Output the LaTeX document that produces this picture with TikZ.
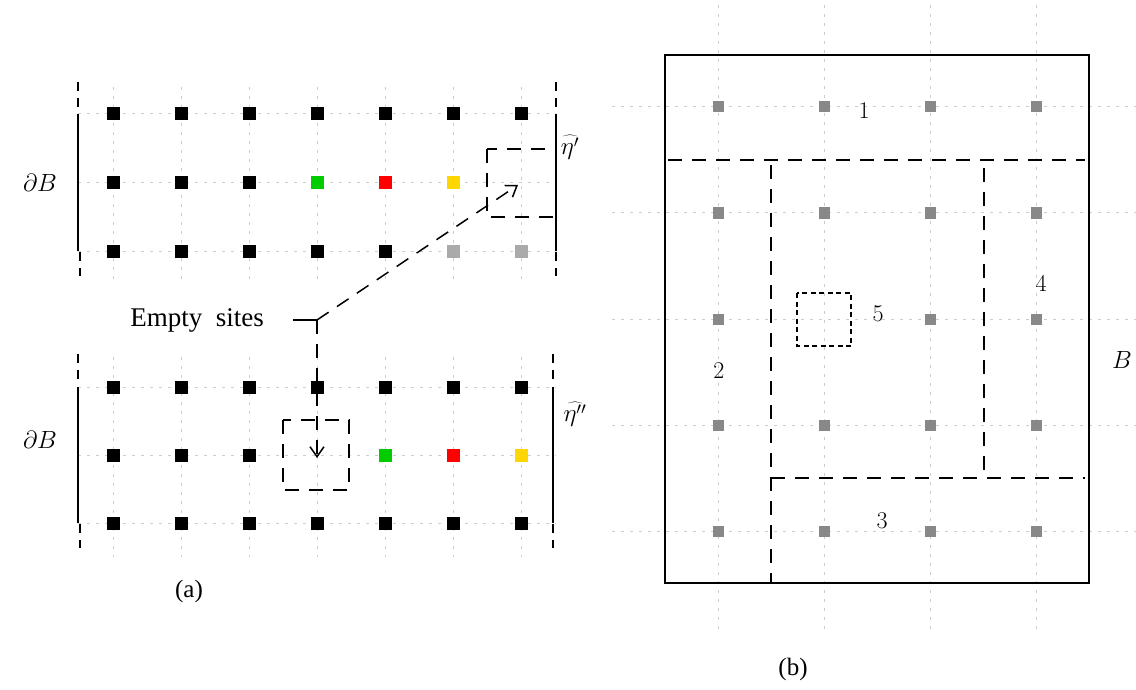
\documentclass[tikz,border=0pt]{standalone}
\usepackage{fontspec}
\newfontfamily\tmsfont{Liberation Serif}
\usetikzlibrary{arrows.meta}
\definecolor{sgreen}{HTML}{00CC00}
\definecolor{sred}{HTML}{FF0000}
\definecolor{syellow}{HTML}{FFD700}
\definecolor{slight}{HTML}{AAAAAA}
\definecolor{sgray}{HTML}{888888}
\definecolor{gridc}{HTML}{CCCCCC}
\begin{document}
\begin{tikzpicture}[x=1pt,y=-1pt,
  site/.style={fill=black,minimum size=13pt,inner sep=0pt,outer sep=0pt},
  rsite/.style={fill=sgray,minimum size=11pt,inner sep=0pt,outer sep=0pt},
  gridline/.style={draw=gridc,line width=1pt,dash pattern=on 3pt off 6pt},
  bound/.style={draw=black,line width=1.5pt},
  bounddash/.style={draw=black,line width=1.5pt,dash pattern=on 9pt off 7pt},
  longdash/.style={draw=black,line width=1.5pt,dash pattern=on 14pt off 10pt},
  shortdash/.style={draw=black,line width=1.2pt,dash pattern=on 5pt off 3.5pt},
  arr/.style={longdash,-{Straight Barb[length=10pt,width=14pt,line width=1.5pt]}},
  bigtxt/.style={font=\tmsfont\fontsize{27}{32}\selectfont,inner sep=0pt},
  mtxt/.style={font=\fontsize{28}{33}\selectfont,inner sep=0pt},
  etatxt/.style={font=\fontsize{26}{31}\selectfont,inner sep=0pt},
  numtxt/.style={font=\fontsize{24}{28}\selectfont,inner sep=0pt},
  captxt/.style={font=\tmsfont\fontsize{25}{30}\selectfont,inner sep=0pt}
]
\useasboundingbox (0,0) rectangle (1136,690);

% ---------------- panel (a), top ----------------
\foreach \i in {0,...,6} \draw[gridline] (113+68*\i,87) -- (113+68*\i,280);
\foreach \j in {0,1,2} \draw[gridline] (78,114+68.5*\j) -- (556,114+68.5*\j);
\draw[bounddash] (78,82) -- (78,112);
\draw[bound] (78,114) -- (78,251);
\draw[bounddash] (80,252) -- (80,276);
\draw[bounddash] (556,82) -- (556,112);
\draw[bound] (556,114) -- (556,251);
\draw[bounddash] (556,252) -- (556,276);

\foreach \i/\j/\c in {0/0/black,1/0/black,2/0/black,3/0/black,4/0/black,5/0/black,6/0/black,
                      0/1/black,1/1/black,2/1/black,3/1/sgreen,4/1/sred,5/1/syellow,
                      0/2/black,1/2/black,2/2/black,3/2/black,4/2/black,5/2/slight,6/2/slight}
  \node[site,fill=\c] (t\i\j) at (113+68*\i,114+68.5*\j) {};
\coordinate (t61) at (521,183);
\draw[longdash] (487,149) rectangle (556,217);

\node[mtxt] (dB1) at (40,183) {$\partial B$};
\node[etatxt] (eta1) at (570,147) {$\widehat{\eta'}$};

% ---------------- panel (a), bottom ----------------
\foreach \i in {0,...,6} \draw[gridline] (113+68*\i,357) -- (113+68*\i,557);
\foreach \j in {0,1,2} \draw[gridline] (78,387+68*\j) -- (556,387+68*\j);
\draw[bounddash] (78,354) -- (78,384);
\draw[bound] (78,387) -- (78,523);
\draw[bounddash] (80,524) -- (80,548);
\draw[bounddash] (553,354) -- (553,384);
\draw[bound] (553,387) -- (553,523);
\draw[bounddash] (553,524) -- (553,548);

\foreach \i/\j/\c in {0/0/black,1/0/black,2/0/black,3/0/black,4/0/black,5/0/black,6/0/black,
                      0/1/black,1/1/black,2/1/black,4/1/sgreen,5/1/sred,6/1/syellow,
                      0/2/black,1/2/black,2/2/black,3/2/black,4/2/black,5/2/black,6/2/black}
  \node[site,fill=\c] (b\i\j) at (113+68*\i,387+68*\j) {};
\coordinate (b31) at (317,455);
\draw[longdash] (283,420) rectangle (349,490);

\node[mtxt] (dB2) at (40,440) {$\partial B$};
\node[etatxt] (eta2) at (575,414) {$\widehat{\eta''}$};

% Empty sites
\node[bigtxt] (es) at (197,320) {Empty\ \ sites};
\coordinate (esl) at (293,320);
\coordinate (J) at (317,320);
\draw[bound] (esl) -- (J);
\draw[arr] (J) -- ([shift={(-3,2)}]t61);
\draw[arr] (J) -- ([yshift=-3]b31);

\node[captxt] (capa) at (189,591) {(a)};

% ---------------- panel (b) ----------------
\foreach \i in {0,...,3} \draw[gridline] (718+106*\i,5) -- (718+106*\i,635);
\foreach \j in {0,...,4} \draw[gridline] (612,107+106*\j) -- (1136,107+106*\j);
\draw[bound] (665,55) rectangle (1089,583);
\foreach \i/\j in {0/0,1/0,2/0,3/0,0/1,1/1,2/1,3/1,0/2,2/2,3/2,0/3,1/3,2/3,3/3,0/4,1/4,2/4,3/4}
  \node[rsite] (r\i\j) at (718+106*\i,107+106*\j) {};

\draw[longdash] (668,160) -- (1085,160);
\draw[longdash] (771,165) -- (771,583);
\draw[longdash] (984,168) -- (984,478);
\draw[longdash] (771,478) -- (1085,478);
\draw[shortdash] (797,293) rectangle (851,346);

\node[numtxt] (n1) at (864,111) {1};
\node[numtxt] (n2) at (719,371) {2};
\node[numtxt] (n3) at (882,521) {3};
\node[numtxt] (n4) at (1041,283) {4};
\node[numtxt] (n5) at (878,314) {5};
\node[numtxt] (nB) at (1122,360) {$B$};
\node[captxt] (capb) at (793,669) {(b)};
\end{tikzpicture}
\end{document}
